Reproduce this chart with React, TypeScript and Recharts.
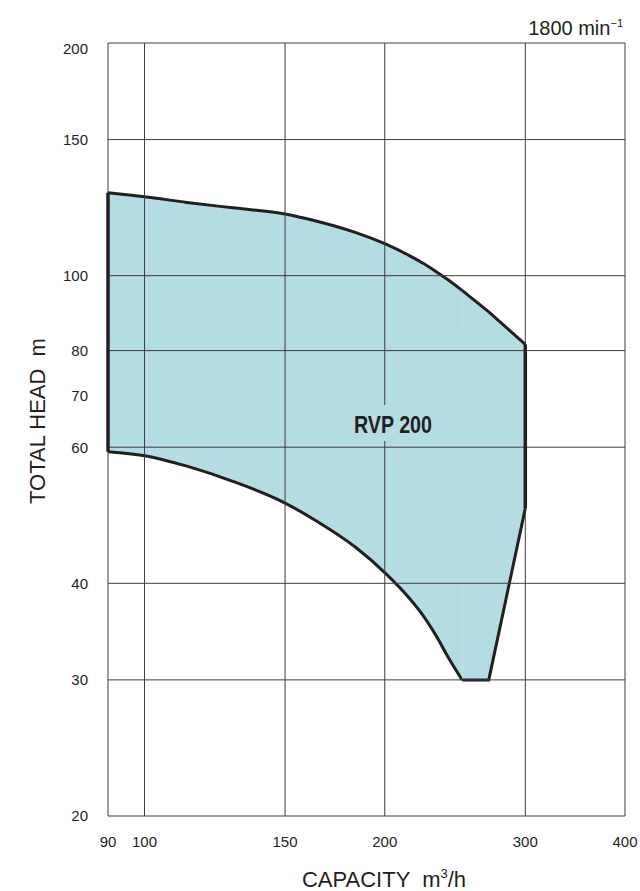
import { Area, ComposedChart, ReferenceLine, XAxis, YAxis } from "recharts";

// operating range of the pump (capacity m3/h -> total head m)
// curved part of the range
const capacity = [90, 100, 113, 129, 150, 164, 184, 200, 215, 224, 232, 241, 250];
const headUpper = [128.0, 126.5, 124.4, 122.4, 120.2, 117.7, 113.7, 110.0, 106.1, 103.6, 101.2, 98.5, 95.7];
const headLower = [59.2, 58.5, 56.7, 54.2, 50.8, 48.2, 44.5, 41.3, 38.2, 36.2, 34.2, 31.9, 30];

// straight-edged tail of the range
const capacityTail = [250, 270, 300];
const headUpperTail = [95.7, 89.8, 81.5];
const headLowerTail = [30, 30, 50];

const capacityTicks = [90, 100, 150, 200, 300, 400];
const headTicks = [20, 30, 40, 60, 70, 80, 100, 150, 200];
const headGrid = [20, 30, 40, 60, 80, 100, 150, 200];

const modelName = "RVP 200";
const speed = "1800";

const FILL = "#b4dce3";
const INK = "#231f20";
const GRID = "#3c3c3c";
const FONT = "'Liberation Sans', Arial, sans-serif";

const curveData = capacity.map((q, i) => ({ q, head: [headLower[i], headUpper[i]] }));
const tailData = capacityTail.map((q, i) => ({ q, head: [headLowerTail[i], headUpperTail[i]] }));

const HeadTick = (props: any) => {
    const { x, y, payload } = props;
    // the top label sits a little below its grid line in the original
    const shift = payload.value === 200 ? 6 : 0;
    return (
        <text x={x} y={y + shift} dy="0.355em" textAnchor="end" fontSize={15} fontFamily={FONT} fill={INK}>
            {payload.value}
        </text>
    );
};

const App = () => {
    const first = 0;
    const last = capacityTail.length - 1;

    return (
        <div style={{ position: "absolute", left: 0, top: 0, width: 640, height: 891, background: "#fff" }}>
            <ComposedChart width={640} height={891} margin={{ top: 43, right: 15, bottom: 0, left: 0 }}>
                <XAxis
                    dataKey="q"
                    type="number"
                    scale="log"
                    domain={[90, 400]}
                    ticks={capacityTicks}
                    allowDataOverflow
                    axisLine={false}
                    tickLine={false}
                    tickMargin={14}
                    height={75}
                    tick={{ fontSize: 15, fontFamily: FONT, fill: INK }}
                />
                <YAxis
                    type="number"
                    scale="log"
                    domain={[20, 200]}
                    ticks={headTicks}
                    allowDataOverflow
                    axisLine={false}
                    tickLine={false}
                    tickMargin={14}
                    width={108}
                    tick={HeadTick}
                />
                <Area
                    data={curveData}
                    dataKey="head"
                    type="monotoneX"
                    fill={FILL}
                    fillOpacity={1}
                    stroke={INK}
                    strokeWidth={3}
                    isAnimationActive={false}
                />
                <Area
                    data={tailData}
                    dataKey="head"
                    type="linear"
                    fill={FILL}
                    fillOpacity={1}
                    stroke={INK}
                    strokeWidth={3}
                    isAnimationActive={false}
                />
                {capacityTicks.map((v) => (
                    <ReferenceLine key={"x" + v} x={v} stroke={GRID} strokeWidth={1} />
                ))}
                {headGrid.map((v) => (
                    <ReferenceLine key={"y" + v} y={v} stroke={GRID} strokeWidth={1} />
                ))}
                <ReferenceLine
                    segment={[{ x: capacity[first], y: headLower[first] }, { x: capacity[first], y: headUpper[first] }]}
                    stroke={INK}
                    strokeWidth={3.5}
                />
                <ReferenceLine
                    segment={[
                        { x: capacityTail[last], y: headLowerTail[last] },
                        { x: capacityTail[last], y: headUpperTail[last] },
                    ]}
                    stroke={INK}
                    strokeWidth={3.5}
                />
            </ComposedChart>

            <svg width={640} height={891} style={{ position: "absolute", left: 0, top: 0, pointerEvents: "none" }}>
                <text x={623} y={35} textAnchor="end" fontSize={20} fontFamily={FONT} fill={INK}>
                    {speed} min
                    <tspan fontSize={11} dy={-8}>−1</tspan>
                </text>

                <rect x={352} y={405} width={82} height={36} fill={FILL} />
                <text
                    x={354}
                    y={433}
                    fontSize={24}
                    fontWeight="bold"
                    fontFamily={FONT}
                    fill={INK}
                    textLength={78}
                    lengthAdjust="spacingAndGlyphs"
                >
                    {modelName}
                </text>

                <text x={384} y={887} textAnchor="middle" fontSize={22} fontFamily={FONT} fill={INK} style={{ whiteSpace: "pre" }}>
                    {"CAPACITY  m"}
                    <tspan fontSize={13} dy={-9}>3</tspan>
                    <tspan dy={9}>/h</tspan>
                </text>

                <text
                    x={45}
                    y={421}
                    transform="rotate(-90, 45, 421)"
                    textAnchor="middle"
                    fontSize={22}
                    fontFamily={FONT}
                    fill={INK}
                    style={{ whiteSpace: "pre" }}
                >
                    {"TOTAL HEAD  m"}
                </text>
            </svg>
        </div>
    );
};

export default App;
